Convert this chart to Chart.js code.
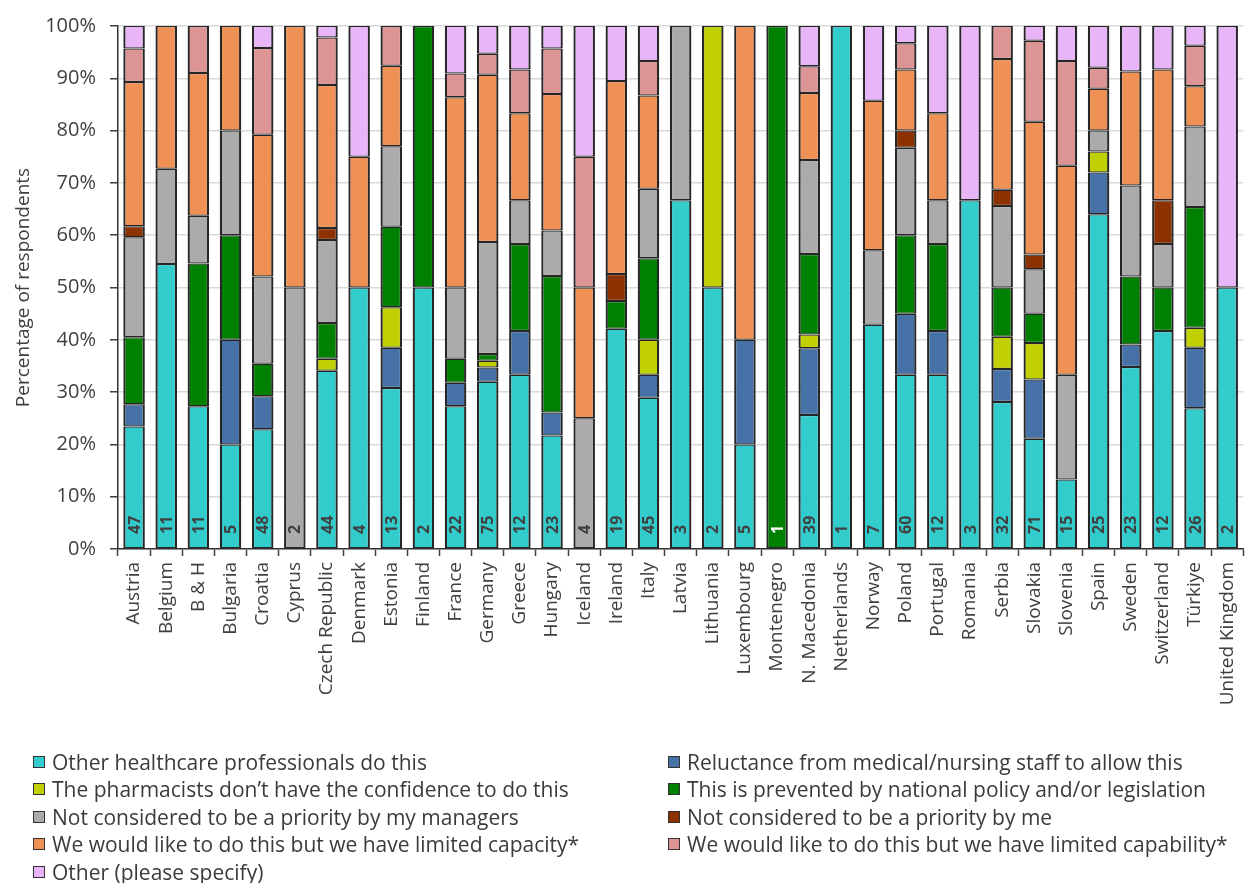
<!DOCTYPE html>
<html>
<head>
<meta charset="utf-8">
<script src="https://cdn.jsdelivr.net/npm/chart.js@4.4.1/dist/chart.umd.min.js"></script>
<style>
    html, body { margin: 0; padding: 0; background: #fff; overflow: hidden; }
    #wrap { position: relative; width: 1256px; height: 883px; }
    #legend {
        position: absolute; left: 33px; top: 748px;
        display: grid; grid-template-columns: 635px 590px;
        font-family: 'Open Sans'; font-size: 21px; color: #3b3b3b;
    }
    .item { height: 27.5px; display: flex; align-items: center; white-space: nowrap; }
    .box { width: 10px; height: 10px; border: 1.5px solid #333; margin-right: 7px; }
</style>
</head>
<body>
<div id="wrap">
    <canvas id="chart" width="1256" height="883"></canvas>
    <div id="legend"></div>
</div>
<script>
// countries and number of respondents (n written on each bar)
const countries = ['Austria', 'Belgium', 'B & H', 'Bulgaria', 'Croatia', 'Cyprus', 'Czech Republic', 'Denmark',
    'Estonia', 'Finland', 'France', 'Germany', 'Greece', 'Hungary', 'Iceland', 'Ireland', 'Italy', 'Latvia',
    'Lithuania', 'Luxembourg', 'Montenegro', 'N. Macedonia', 'Netherlands', 'Norway', 'Poland', 'Portugal',
    'Romania', 'Serbia', 'Slovakia', 'Slovenia', 'Spain', 'Sweden', 'Switzerland', 'Türkiye', 'United Kingdom'];
const respondents = [47, 11, 11, 5, 48, 2, 44, 4, 13, 2, 22, 75, 12, 23, 4, 19, 45, 3, 2, 5, 1, 39, 1, 7, 60, 12, 3, 32, 71, 15, 25, 23, 12, 26, 2];

// percentage of respondents per reason
const otherProfessionals = [23.4, 54.5, 27.3, 20, 22.9, 0, 34.1, 50, 30.8, 50, 27.3, 32.0, 33.3, 21.7, 0, 42.1, 28.9, 66.7, 50, 20, 0, 25.6, 100, 42.9, 33.3, 33.3, 66.7, 28.1, 21.1, 13.3, 64, 34.8, 41.7, 26.9, 50];
const reluctance = [4.3, 0, 0, 20, 6.3, 0, 0, 0, 7.7, 0, 4.5, 2.7, 8.4, 4.4, 0, 0, 4.4, 0, 0, 20, 0, 12.8, 0, 0, 11.7, 8.4, 0, 6.3, 11.3, 0, 8, 4.3, 0, 11.6, 0];
const noConfidence = [0, 0, 0, 0, 0, 0, 2.3, 0, 7.7, 0, 0, 1.3, 0, 0, 0, 0, 6.7, 0, 50, 0, 0, 2.6, 0, 0, 0, 0, 0, 6.2, 7.0, 0, 4, 0, 0, 3.8, 0];
const prevented = [12.8, 0, 27.3, 20, 6.2, 0, 6.8, 0, 15.4, 50, 4.6, 1.3, 16.6, 26.1, 0, 5.3, 15.6, 0, 0, 0, 100, 15.4, 0, 0, 15.0, 16.6, 0, 9.4, 5.6, 0, 0, 13.0, 8.3, 23.1, 0];
const priorityManagers = [19.1, 18.2, 9.1, 20, 16.7, 50, 15.9, 0, 15.4, 0, 13.6, 21.4, 8.4, 8.7, 25, 0, 13.3, 33.3, 0, 0, 0, 18.0, 0, 14.2, 16.7, 8.4, 0, 15.6, 8.5, 20.0, 4, 17.4, 8.3, 15.4, 0];
const priorityMe = [2.1, 0, 0, 0, 0, 0, 2.3, 0, 0, 0, 0, 0, 0, 0, 0, 5.2, 0, 0, 0, 0, 0, 0, 0, 0, 3.3, 0, 0, 3.1, 2.8, 0, 0, 0, 8.4, 0, 0];
const limitedCapacity = [27.6, 27.3, 27.3, 20, 27.1, 50, 27.3, 25, 15.4, 0, 36.4, 32.0, 16.6, 26.1, 25, 36.9, 17.8, 0, 0, 60, 0, 12.8, 0, 28.6, 11.7, 16.6, 0, 25.0, 25.4, 40.0, 8, 21.8, 25.0, 7.7, 0];
const limitedCapability = [6.4, 0, 9.0, 0, 16.6, 0, 9.1, 0, 7.6, 0, 4.5, 4.0, 8.4, 8.7, 25, 0, 6.6, 0, 0, 0, 0, 5.1, 0, 0, 5.0, 0, 0, 6.3, 15.5, 20.0, 4, 0, 0, 7.7, 0];
const otherSpecify = [4.3, 0, 0, 0, 4.2, 0, 2.2, 25, 0, 0, 9.1, 5.3, 8.3, 4.3, 25, 10.5, 6.7, 0, 0, 0, 0, 7.7, 0, 14.3, 3.3, 16.7, 33.3, 0, 2.8, 6.7, 8, 8.7, 8.3, 3.8, 50];

const yTicks = [0, 10, 20, 30, 40, 50, 60, 70, 80, 90, 100];

const textColor = '#404040';
const font = 'Open Sans';

function serie(label, values, color) {
    return {
        label: label,
        data: values.map(v => v === 0 ? null : v),
        backgroundColor: color,
        borderColor: '#262626',
        borderWidth: { top: 1.25, bottom: 1.25, left: 2.25, right: 2.25 },
        borderSkipped: false,
        inflateAmount: 0,
        barPercentage: 0.67,
        categoryPercentage: 1
    };
}

// n of respondents at the foot of each bar
const nLabels = {
    id: 'nLabels',
    afterDatasetsDraw(chart) {
        const ctx = chart.ctx;
        const y0 = chart.scales.y.getPixelForValue(0);
        ctx.save();
        ctx.font = 'bold 16px "Open Sans"';
        ctx.textAlign = 'left';
        ctx.textBaseline = 'middle';
        respondents.forEach((n, i) => {
            const x = chart.scales.x.getPixelForValue(i);
            const base = chart.data.datasets.find(d => d.data[i]);
            ctx.fillStyle = base && base.backgroundColor === '#008000' ? '#ffffff' : textColor;
            ctx.save();
            ctx.translate(x + 1, y0 - 15);
            ctx.rotate(-Math.PI / 2);
            ctx.fillText(String(n), 0, 0);
            ctx.restore();
        });
        ctx.restore();
    }
};

document.addEventListener('DOMContentLoaded', function() {
    const ctx = document.getElementById('chart').getContext('2d');
    const chart = new Chart(ctx, {
        type: 'bar',
        data: {
            labels: countries,
            datasets: [
                serie('Other healthcare professionals do this', otherProfessionals, '#33CCCC'),
                serie('Reluctance from medical/nursing staff to allow this', reluctance, '#4672A8'),
                serie('The pharmacists don\u2019t have the confidence to do this', noConfidence, '#C0D000'),
                serie('This is prevented by national policy and/or legislation', prevented, '#008000'),
                serie('Not considered to be a priority by my managers', priorityManagers, '#ABABAB'),
                serie('Not considered to be a priority by me', priorityMe, '#8C3200'),
                serie('We would like to do this but we have limited capacity*', limitedCapacity, '#EF9055'),
                serie('We would like to do this but we have limited capability*', limitedCapability, '#DC9594'),
                serie('Other (please specify)', otherSpecify, '#E8B6F8')
            ]
        },
        options: {
            responsive: false,
            animation: false,
            layout: { padding: { top: 23, right: 1, bottom: 164, left: 0 } },
            plugins: {
                legend: { display: false },
                tooltip: { enabled: false }
            },
            scales: {
                x: {
                    stacked: true,
                    offset: true,
                    grid: { offset: true, drawOnChartArea: false, tickLength: 7, tickColor: '#404040', tickWidth: 1.5 },
                    border: { color: '#333333', width: 1.5 },
                    ticks: {
                        autoSkip: false, minRotation: 90, maxRotation: 90, padding: 6,
                        color: textColor, font: { family: font, size: 19 }
                    },
                    afterFit: s => { s.height = 170; }
                },
                y: {
                    stacked: true,
                    min: 0,
                    max: 100,
                    afterBuildTicks: s => { s.ticks = yTicks.map(v => ({ value: v })); },
                    ticks: {
                        callback: v => v + '%', padding: 14,
                        color: textColor, font: { family: font, size: 20 }
                    },
                    grid: { color: '#D9D9D9', lineWidth: 1.5, tickLength: 8, tickColor: '#404040' },
                    border: { color: '#333333', width: 1.5 },
                    title: {
                        display: true, text: 'Percentage of respondents',
                        color: textColor, font: { family: font, size: 19 },
                        padding: { top: 12, bottom: 2 }
                    },
                    afterFit: s => { s.width = 118; }
                }
            }
        },
        plugins: [nLabels]
    });

    // legend in two columns, built from the datasets
    const legend = document.getElementById('legend');
    chart.data.datasets.forEach(d => {
        const item = document.createElement('div');
        item.className = 'item';
        item.innerHTML = `<span class="box" style="background:${d.backgroundColor}"></span><span>${d.label}</span>`;
        legend.appendChild(item);
    });
});
</script>
</body>
</html>
